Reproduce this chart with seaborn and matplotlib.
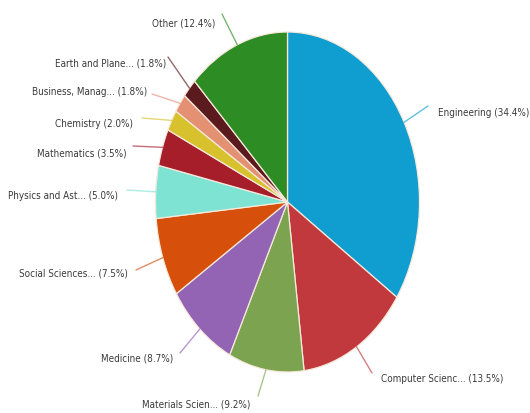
import numpy as np
import matplotlib
matplotlib.use("Agg")
import matplotlib.pyplot as plt
import seaborn as sns
from matplotlib import font_manager
from matplotlib.font_manager import FontProperties

# ---- data ----
categories = ["Engineering", "Computer Scienc...", "Materials Scien...", "Medicine",
              "Social Sciences...", "Physics and Ast...", "Mathematics", "Chemistry",
              "Business, Manag...", "Earth and Plane...", "Other"]
shares = [34.4, 13.5, 9.2, 8.7, 7.5, 5.0, 3.5, 2.0, 1.8, 1.8, 12.4]
colors = ["#109dd0", "#c1393c", "#7ca350", "#9363b4", "#d6500c", "#7fe3d3",
          "#a61e2a", "#d7c22e", "#e39073", "#5b1a1e", "#2e8c24"]

sns.set_theme(style="white")

# choose a narrow font if available
fam, stretch = None, "normal"
try:
    font_manager.findfont("Liberation Sans Narrow", fallback_to_default=False)
    fam = "Liberation Sans Narrow"
except Exception:
    try:
        f = font_manager.findfont(FontProperties(family="DejaVu Sans", stretch="condensed"),
                                  fallback_to_default=False)
        if "ondensed" in f:
            fam, stretch = "DejaVu Sans", "condensed"
    except Exception:
        pass
if fam is None:
    fam = "Lato"
plt.rcParams["font.family"] = [fam, "DejaVu Sans"]

W, H = 530, 414
fig = plt.figure(figsize=(W / 100, H / 100), dpi=100)
ax = fig.add_axes([0, 0, 1, 1])

# size the labels so that the Engineering label is about 91 px wide
probe = fig.text(0, 0, "Engineering (34.4%)", fontsize=10, family=[fam, "DejaVu Sans"],
                 fontstretch=stretch)
fig.canvas.draw()
pw = probe.get_window_extent().width
probe.remove()
fsize = min(9.2, 10 * 91.0 / pw)

# pie geometry in pixels (ellipse: reference image is stretched vertically)
cx, cy, rx, ry = 287.5, 203.0, 132.0, 170.0

wedges, _ = ax.pie(shares, colors=sns.color_palette(colors), startangle=90,
                   counterclock=False, radius=1.0,
                   wedgeprops=dict(edgecolor="#f6e9dc", linewidth=0.9))
ax.set_aspect("auto")
ax.set_xlim(-cx / rx, (W - cx) / rx)
ax.set_ylim(-(H - cy) / ry, cy / ry)
ax.axis("off")


def px2d(px, py):
    return (px - cx) / rx, (cy - py) / ry


# label layout (pixel positions of text anchor) and side
label_layout = [
    (438, 113, "left"), (381, 379, "left"), (250, 405, "right"), (173, 359, "right"),
    (128, 274, "right"), (118, 196, "right"), (127, 153, "right"), (133, 124, "right"),
    (147, 92, "right"), (166, 63, "right"), (215, 23, "right"),
]
# connector end points (pixels) near the labels
conn_end = [
    (428, 107), (372, 374), (258, 397), (180, 354), (136, 271), (127, 191),
    (133, 147), (142, 119), (152, 95), (168, 58), (222, 15),
]

for w, cat, val, col, (tx, ty, ha), (ex, ey) in zip(wedges, categories, shares, colors,
                                                    label_layout, conn_end):
    ang = np.deg2rad((w.theta1 + w.theta2) / 2.0)
    sx, sy = np.cos(ang) * 1.0, np.sin(ang) * 1.0
    exd, eyd = px2d(ex, ey)
    ax.plot([sx, exd], [sy, eyd], color=col, alpha=0.65, lw=1.0, solid_capstyle="round")
    txd, tyd = px2d(tx, ty)
    ax.text(txd, tyd, f"{cat} ({val:.1f}%)", ha=ha, va="center", fontsize=fsize,
            color="#3a3a3a", family=[fam, "DejaVu Sans"], fontstretch=stretch)

fig.savefig("out.png", dpi=100)
